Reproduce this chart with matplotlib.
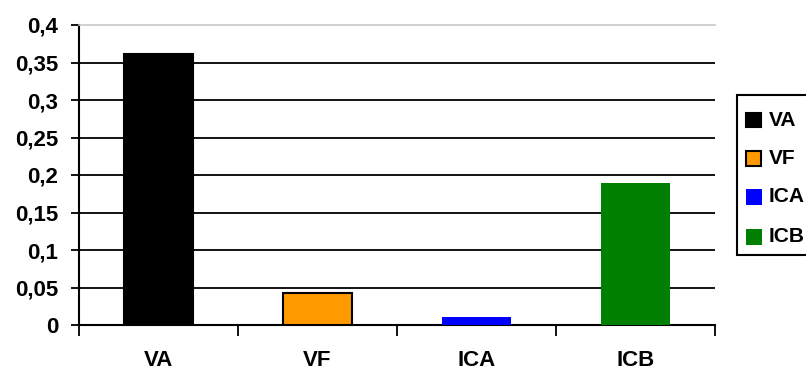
import numpy as np
import matplotlib
matplotlib.use("Agg")
import matplotlib.pyplot as plt
from matplotlib.ticker import FuncFormatter, FixedLocator
from matplotlib.patches import Rectangle

categories = ["VA", "VF", "ICA", "ICB"]
values = [0.361, 0.043, 0.011, 0.189]
colors = ["#000000", "#FF9900", "#0000FF", "#008000"]
edges = ["#000000", "#000000", "none", "none"]

plt.rcParams["font.family"] = ["Liberation Sans", "DejaVu Sans"]
plt.rcParams["font.weight"] = "bold"

W, H = 806, 370
fig = plt.figure(figsize=(W / 100, H / 100), dpi=100)
ax = fig.add_axes([79 / W, 1 - 325 / H, (715 - 79) / W, 300 / H])

x = np.arange(len(categories))
ax.set_xlim(-0.5, len(categories) - 0.5)
ax.set_ylim(0, 0.4)

yticks = np.arange(0, 0.4001, 0.05)
for yv in yticks[1:-1]:
    ax.axhline(yv, color="black", lw=1.3, zorder=1)

for xi, v, c, e in zip(x, values, colors, edges):
    ax.bar(xi, v, width=0.43, color=c, edgecolor=e, linewidth=1.5 if e != "none" else 0, zorder=3)

ax.spines["right"].set_visible(False)
ax.spines["top"].set_color("#c8c8c8")
ax.spines["top"].set_linewidth(1.2)
ax.spines["left"].set_linewidth(1.5)
ax.spines["bottom"].set_linewidth(1.5)

ax.yaxis.set_major_locator(FixedLocator(yticks))
ax.yaxis.set_major_formatter(FuncFormatter(lambda v, p: ("%g" % round(v, 2)).replace(".", ",")))
ax.tick_params(axis="y", length=6, width=1.3, labelsize=16, pad=9)

ax.set_xticks(x)
ax.set_xticklabels(categories)
ax.set_xticks(np.arange(-0.5, len(categories), 1.0), minor=True)
ax.tick_params(axis="x", which="major", length=0, labelsize=16, pad=18)
ax.tick_params(axis="x", which="minor", length=8, width=1.3)

for lab in ax.get_xticklabels() + ax.get_yticklabels():
    lab.set_fontweight("bold")

# Legend box on the right, running past the figure edge
fx = lambda px: px / W
fy = lambda py: 1 - py / H
fig.patches.append(Rectangle((fx(737), fy(255)), fx(830) - fx(737), fy(95) - fy(255),
                             transform=fig.transFigure, facecolor="white",
                             edgecolor="black", linewidth=1.5, zorder=5))
row_y = [120, 158, 197, 237]
for ry, name, c, e in zip(row_y, categories, colors, edges):
    has_edge = e != "none"
    size = 15 if has_edge else 16
    fig.patches.append(Rectangle((fx(746), fy(ry + size / 2)), fx(746 + size) - fx(746),
                                 fy(ry - size / 2) - fy(ry + size / 2),
                                 transform=fig.transFigure, facecolor=c,
                                 edgecolor=("black" if has_edge else c),
                                 linewidth=1.5 if has_edge else 0, zorder=6))
    fig.text(fx(769), fy(ry), name, fontsize=15, fontweight="bold",
             ha="left", va="center", zorder=7)

fig.savefig("out.png", dpi=100)
